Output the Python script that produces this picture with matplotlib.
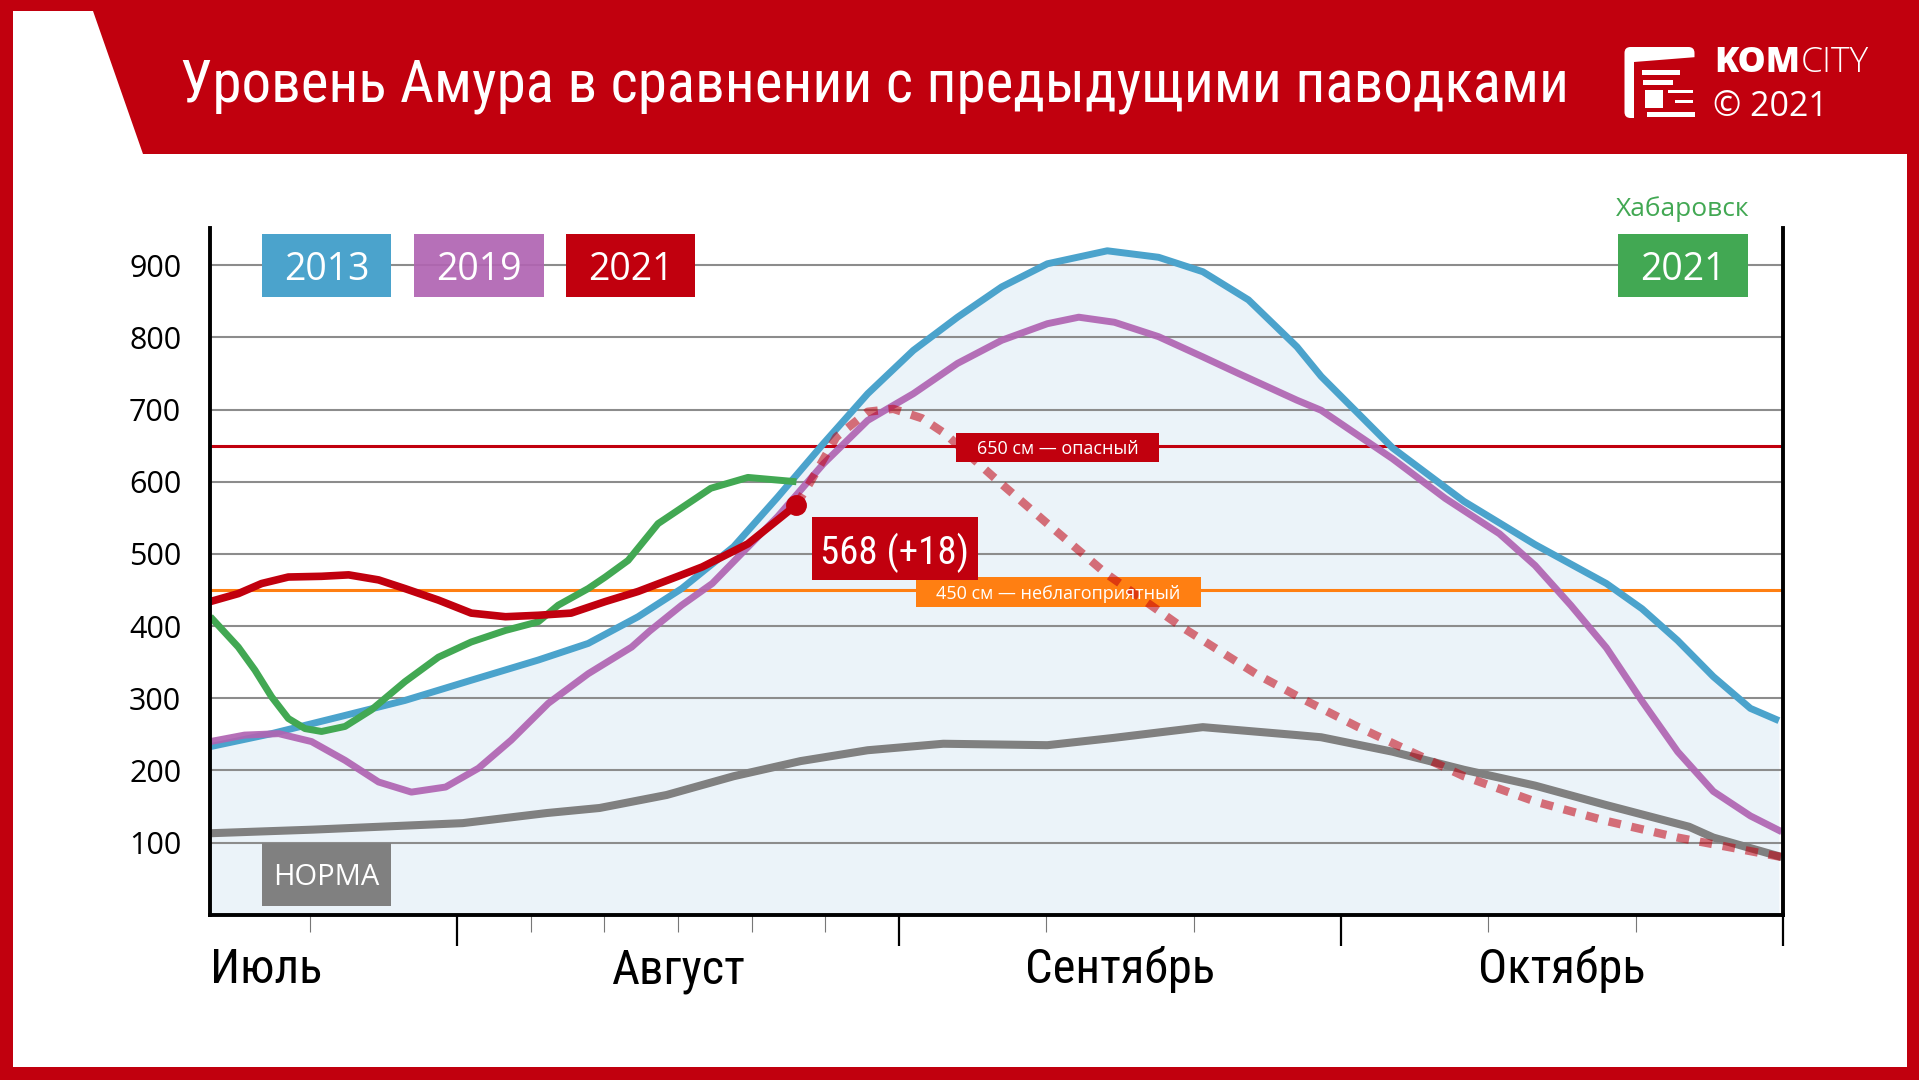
import matplotlib
matplotlib.use('Agg')
import matplotlib.pyplot as plt
from matplotlib import font_manager as fm
from matplotlib.patches import Rectangle, Polygon, FancyBboxPatch
from matplotlib.transforms import blended_transform_factory

# ---------------- data ----------------
TITLE = "Уровень Амура в сравнении с предыдущими паводками"
MONTHS = ["Июль", "Август", "Сентябрь", "Октябрь"]
MONTH_POS = [13.7, 46.5, 77.5, 108.5]
MAJOR_TICKS = [31, 62, 93, 124]
MINOR_TICKS = [20.67, 36.17, 41.33, 46.5, 51.67, 56.83, 72.33, 82.67, 103.33, 113.67]
Y_TICKS = [100, 200, 300, 400, 500, 600, 700, 800, 900]

DAYS_2013 = [13.7, 18.0, 22.7, 27.35, 32.0, 36.7, 40.2, 43.7, 46.76, 50.4, 53.5, 56.7, 59.8, 63.0,
             66.1, 69.2, 72.4, 76.6, 80.2, 83.3, 86.5, 89.9, 91.6, 96.6, 101.6, 106.6, 111.6,
             114.1, 116.6, 119.1, 121.7, 123.7]
VALS_2013 = [233, 251, 274, 297, 325, 353, 376, 413, 452, 510, 579, 653, 722, 782,
             828, 870, 902, 920, 911, 891, 852, 787, 746, 647, 573, 513, 459,
             424, 380, 330, 286, 269]

DAYS_2019 = [13.7, 16.1, 18.5, 20.8, 23.15, 25.5, 27.8, 30.2, 32.5, 34.8, 37.4, 40.2, 43.25, 44.5,
             46.76, 48.9, 53.5, 56.7, 59.8, 63.0, 66.1, 69.2, 72.4, 74.6, 77.1, 80.2, 83.3, 85.8,
             89.9, 91.6, 96.6, 100.3, 104.1, 106.6, 109.1, 111.6, 114.1, 116.6, 119.1, 121.7, 123.9]
VALS_2019 = [240, 249, 251, 240, 214, 184, 170, 177, 203, 242, 293, 334, 371, 393,
             429, 459, 552, 625, 685, 722, 764, 796, 819, 828, 821, 801, 773, 750,
             713, 699, 632, 577, 528, 484, 429, 370, 296, 226, 171, 137, 115]

DAYS_NORM = [13.7, 20.9, 31.4, 37.3, 41.0, 45.7, 50.4, 55.1, 59.8, 65.1, 72.4, 77.0, 83.3, 89.9,
             91.6, 96.6, 101.6, 106.6, 111.6, 117.4, 119.1, 123.9]
VALS_NORM = [113, 118, 127, 141, 148, 166, 192, 213, 228, 237, 235, 245, 260, 249,
             246, 226, 201, 179, 152, 122, 107, 80]

DAYS_KHAB = [13.7, 15.66, 16.83, 18.0, 19.17, 20.34, 21.5, 23.15, 25.0, 27.35, 29.7, 32.0, 34.4,
             36.7, 38.1, 40.2, 41.4, 43.0, 45.1, 48.8, 51.4, 54.8]
VALS_KHAB = [413, 371, 339, 302, 272, 258, 254, 261, 284, 323, 357, 378, 394,
             406, 429, 452, 468, 491, 542, 591, 606, 600]

DAYS_2021 = [13.7, 15.66, 17.3, 19.17, 21.5, 23.4, 25.5, 27.35, 29.7, 32.0, 34.4, 36.7, 39.0,
             41.4, 43.7, 46.76, 48.2, 51.4, 54.8]
VALS_2021 = [434, 445, 459, 468, 469, 471, 464, 452, 436, 418, 413, 415, 418,
             434, 448, 471, 482, 514, 568]

DAYS_FCST = [54.8, 55.7, 57.6, 59.8, 61.6, 63.6, 65.2, 68.6, 72.4, 76.5, 81.8, 87.1, 90.4, 94.1,
             97.9, 101.6, 106.6, 111.6, 116.6, 120.4, 123.9]
VALS_FCST = [568, 597, 662, 697, 701, 688, 667, 607, 542, 473, 399, 333, 298, 261,
             226, 192, 157, 130, 107, 93, 80]

LEVEL_DANGER = 650
LEVEL_BAD = 450
LABEL_DANGER = "650 см — опасный"
LABEL_BAD = "450 см — неблагоприятный"
CURRENT_LABEL = "568 (+18)"
LEGEND = ["2013", "2019", "2021"]
KHAB_TITLE = "Хабаровск"
KHAB_LABEL = "2021"
NORM_LABEL = "НОРМА"

# ---------------- style ----------------
RED = '#C1000E'
BLUE = '#4BA3CC'
PURPLE = '#B064B2'
GREEN = '#42A853'
GRAY = '#808080'
ORANGE = '#FF7F12'
FILL = '#EBF3F9'

names = {f.name for f in fm.fontManager.ttflist}
COND = None
for c in ['Liberation Sans Narrow', 'Roboto Condensed', 'Open Sans Condensed',
          'Noto Sans Condensed', 'DejaVu Sans Condensed', 'Arial Narrow']:
    if c in names:
        COND = c
        break
REG = 'Open Sans' if 'Open Sans' in names else 'DejaVu Sans'
if COND is None:
    COND = REG

W, H = 1919, 1080
fig = plt.figure(figsize=(W / 100, H / 100), dpi=100)
bg = fig.add_axes([0, 0, 1, 1])
bg.set_xlim(0, W)
bg.set_ylim(H, 0)
bg.axis('off')
P = bg.transData

# frame and header
bg.add_patch(Rectangle((0, 0), W, H, color=RED, lw=0))
bg.add_patch(Rectangle((12.7, 11), 1907 - 12.7, 1067 - 11, color='white', lw=0))
bg.add_patch(Polygon([(92.7, 11), (1919, 11), (1919, 154), (142.7, 154)], color=RED, lw=0))
bg.text(180, 101.7, TITLE, color='white', fontsize=42.5, family=COND, va='baseline', ha='left')

# logo icon
bg.add_patch(FancyBboxPatch((1626, 48.5), 67, 68, boxstyle='round,pad=1.5,rounding_size=6',
                            color='white', lw=0))
bg.add_patch(Polygon([(1634, 62), (1697, 57), (1697, 119), (1634, 119)], color=RED, lw=0))
for (x0, y0, x1, y1) in [(1641.7, 70, 1680, 75), (1643.3, 80, 1673.3, 85), (1645, 90, 1663.3, 108.3),
                         (1668.3, 90, 1693.3, 93.3), (1675, 100, 1693.3, 103.3),
                         (1646.7, 111.7, 1695, 116.7)]:
    bg.add_patch(Rectangle((x0, y0), x1 - x0, y1 - y0, color='white', lw=0))
t_kom = bg.text(1714, 72, 'KOM', color='white', fontsize=25.5, family=REG, weight='heavy',
                va='baseline')
fig.canvas.draw()
bb = t_kom.get_window_extent()
bg.text(bb.x1 + 1, 72, 'CITY', color='white', fontsize=25.5, family=REG, weight='light',
        va='baseline')
bg.text(1713, 116, '© 2021', color='white', fontsize=24.5, family=REG, va='baseline')

# ---------------- chart ----------------
L, R = 210.3, 1783.2
TOP, BOT = 227.7, 914.8
ax = fig.add_axes([L / W, 1 - BOT / H, (R - L) / W, (BOT - TOP) / H])
ax.set_xlim(13.7, 124)
ax.set_ylim(0, 952)
ax.patch.set_alpha(0)

ax.fill_between(DAYS_2013, VALS_2013, 0, color=FILL, lw=0, zorder=1)
ax.hlines(Y_TICKS, 13.7, 124, color='#8c8c8c', lw=1.5, zorder=1.5)
ax.axhline(LEVEL_DANGER, color=RED, lw=2.2, zorder=2)
ax.axhline(LEVEL_BAD, color=ORANGE, lw=2.2, zorder=2)

ax.plot(DAYS_NORM, VALS_NORM, color=GRAY, lw=5.8, zorder=3, solid_capstyle='butt',
        solid_joinstyle='round')
ax.plot(DAYS_2013, VALS_2013, color=BLUE, lw=5.0, zorder=3.2, solid_capstyle='butt',
        solid_joinstyle='round')
ax.plot(DAYS_2019, VALS_2019, color=PURPLE, lw=5.0, zorder=3.4, alpha=0.92, solid_capstyle='butt',
        solid_joinstyle='round')
ax.plot(DAYS_KHAB, VALS_KHAB, color=GREEN, lw=5.0, zorder=3.6, solid_capstyle='butt',
        solid_joinstyle='round')
ax.plot(DAYS_FCST, VALS_FCST, color=RED, alpha=0.55, lw=6, zorder=3.7,
        linestyle=(0, (1.5, 1.3)), dash_capstyle='butt')
ax.plot(DAYS_2021, VALS_2021, color=RED, lw=5.5, zorder=3.8, solid_capstyle='round',
        solid_joinstyle='round')
ax.plot(DAYS_2021[-1], VALS_2021[-1], 'o', color=RED, ms=14, zorder=4)

# axes styling
for s in ['left', 'right', 'bottom']:
    ax.spines[s].set_linewidth(2.8)
    ax.spines[s].set_color('black')
    ax.spines[s].set_zorder(5)
ax.spines['top'].set_visible(False)
ax.set_xticks(MAJOR_TICKS)
ax.set_xticklabels([])
ax.set_xticks(MINOR_TICKS, minor=True)
ax.tick_params(axis='x', which='major', length=22, width=1.6, color='black', direction='out')
ax.tick_params(axis='x', which='minor', length=12.5, width=0.8, color='#777777', direction='out')
ax.set_yticks(Y_TICKS)
ax.set_yticklabels([str(v) for v in Y_TICKS])
ax.tick_params(axis='y', length=0, pad=21, labelsize=22)
for lab in ax.get_yticklabels():
    lab.set_fontfamily(REG)

tb = blended_transform_factory(ax.transData, P)
for i, (m, x) in enumerate(zip(MONTHS, MONTH_POS)):
    ax.text(x, 983, m, transform=tb, ha='left' if i == 0 else 'center', va='baseline',
            fontsize=35, family=COND, color='black', clip_on=False)


def box(x0, y0, x1, y1, color, text, tcolor='white', fs=27, family=REG, z=6, alpha=1.0):
    ax.add_patch(Rectangle((x0, y0), x1 - x0, y1 - y0, transform=P, color=color, lw=0,
                           zorder=z, clip_on=False, alpha=alpha))
    ax.text((x0 + x1) / 2, (y0 + y1) / 2, text, transform=P, ha='center', va='center_baseline',
            color=tcolor, fontsize=fs, family=family, zorder=z + 0.1, clip_on=False)


box(262, 234, 391, 297, BLUE, LEGEND[0])
box(414, 234, 544, 297, PURPLE, LEGEND[1], alpha=0.92)
box(566, 234, 695, 297, RED, LEGEND[2])
box(1618, 234, 1748, 297, GREEN, KHAB_LABEL)
ax.text(1683, 216, KHAB_TITLE, transform=P, ha='center', va='baseline', color=GREEN,
        fontsize=19, family=REG, clip_on=False)
box(261.7, 842.7, 391, 905.7, GRAY, NORM_LABEL, fs=21)
box(956, 432.5, 1159, 461.5, RED, LABEL_DANGER, fs=13, z=6)
box(915.6, 576.7, 1201.3, 606.7, ORANGE, LABEL_BAD, fs=13, z=3.65)
box(812, 517, 978, 580, RED, CURRENT_LABEL, fs=28, family=COND, z=6)

fig.savefig('out.png', dpi=100)
